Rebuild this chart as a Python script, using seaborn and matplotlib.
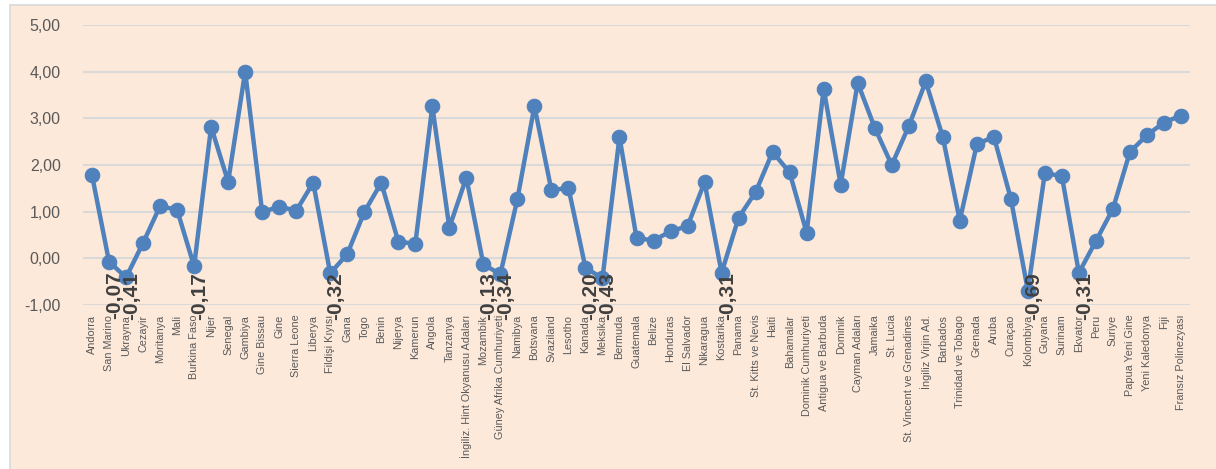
import numpy as np
import pandas as pd
import matplotlib
matplotlib.use("Agg")
import matplotlib.pyplot as plt
import seaborn as sns
from matplotlib.patches import Rectangle

countries = [
    "Andorra", "San Marino", "Ukrayna", "Cezayir", "Moritanya", "Mali",
    "Burkina Faso", "Nijer", "Senegal", "Gambiya", "Gine Bissau", "Gine",
    "Sierra Leone", "Liberya", "Fildişi Kıyısı", "Gana", "Togo", "Benin",
    "Nijerya", "Kamerun", "Angola", "Tanzanya", "İngiliz. Hint Okyanusu Adaları",
    "Mozambik", "Güney Afrika Cumhuriyeti", "Namibya", "Botsvana", "Svaziland",
    "Lesotho", "Kanada", "Meksika", "Bermuda", "Guatemala", "Belize",
    "Honduras", "El Salvador", "Nikaragua", "Kostarika", "Panama",
    "St. Kitts ve Nevis", "Haiti", "Bahamalar", "Dominik Cumhuriyeti",
    "Antigua ve Barbuda", "Dominik", "Cayman Adaları", "Jamaika", "St. Lucia",
    "St. Vincent ve Grenadines", "İngiliz Virjin Ad.", "Barbados",
    "Trinidad ve Tobago", "Grenada", "Aruba", "Curaçao", "Kolombiya",
    "Guyana", "Surinam", "Ekvator", "Peru", "Suriye", "Papua Yeni Gine",
    "Yeni Kaledonya", "Fiji", "Fransız Polinezyası",
]

values = [
    1.78, -0.07, -0.41, 0.33, 1.12, 1.04, -0.17, 2.82, 1.64, 4.00,
    0.99, 1.11, 1.02, 1.62, -0.32, 0.09, 0.99, 1.62, 0.36, 0.31,
    3.26, 0.66, 1.73, -0.13, -0.34, 1.27, 3.26, 1.46, 1.51, -0.20,
    -0.43, 2.60, 0.44, 0.38, 0.58, 0.69, 1.63, -0.31, 0.87, 1.42,
    2.28, 1.84, 0.55, 3.63, 1.58, 3.76, 2.80, 2.00, 2.83, 3.79,
    2.60, 0.81, 2.44, 2.61, 1.28, -0.69, 1.83, 1.76, -0.31, 0.37,
    1.06, 2.28, 2.64, 2.91, 3.06,
]

y_ticks = [-1, 0, 1, 2, 3, 4, 5]

df = pd.DataFrame({"idx": np.arange(len(countries)), "val": values})

bg = "#FDE9DA"
blue = "#4F81BD"

fig = plt.figure(figsize=(12.16, 4.69), dpi=100)
fig.patch.set_facecolor("white")
frame = Rectangle((9.5 / 1216, -0.01), 1.0, 1 - 5.5 / 469 + 0.01,
                  transform=fig.transFigure, facecolor=bg,
                  edgecolor="#D9D9D9", linewidth=1.2, zorder=-10)
fig.add_artist(frame)

ax = fig.add_axes([83 / 1216, 1 - 305 / 469, (1190 - 83) / 1216, 280 / 469])
ax.set_facecolor("none")
ax.set_zorder(1)

sns.lineplot(data=df, x="idx", y="val", ax=ax, color=blue, linewidth=3.2,
             marker="o", markersize=10.5, markeredgecolor=blue, zorder=3)

ax.set_xlim(-0.53, len(countries) - 1 + 0.53)
ax.set_ylim(-1, 5)
ax.set_yticks(y_ticks)
ax.set_yticklabels([f"{v:.2f}".replace(".", ",") for v in y_ticks],
                   fontsize=11.5, color="#595959", family="Liberation Sans")
ax.set_xticks(df["idx"])
ax.set_xticklabels(countries, rotation=90, fontsize=7.8, color="#595959",
                   family="Liberation Sans", va="top", ha="center")
ax.tick_params(axis="both", length=0)
ax.tick_params(axis="x", pad=7)
ax.tick_params(axis="y", pad=16)
ax.set_xlabel("")
ax.set_ylabel("")
for s in ax.spines.values():
    s.set_visible(False)
ax.grid(axis="y", color="#D9D9D9", linewidth=1.5, zorder=0)
ax.set_axisbelow(True)

# labels for the negative values only
for i, v in zip(df["idx"], df["val"]):
    if v < 0:
        ax.annotate(f"{v:.2f}".replace(".", ","), xy=(i, -0.80),
                    xytext=(4, 0), textcoords="offset points",
                    rotation=90, ha="center", va="center", fontsize=15,
                    fontweight="bold", color="#404040",
                    family="Liberation Sans", zorder=4)

fig.savefig("out.png", dpi=100, facecolor=fig.get_facecolor())
